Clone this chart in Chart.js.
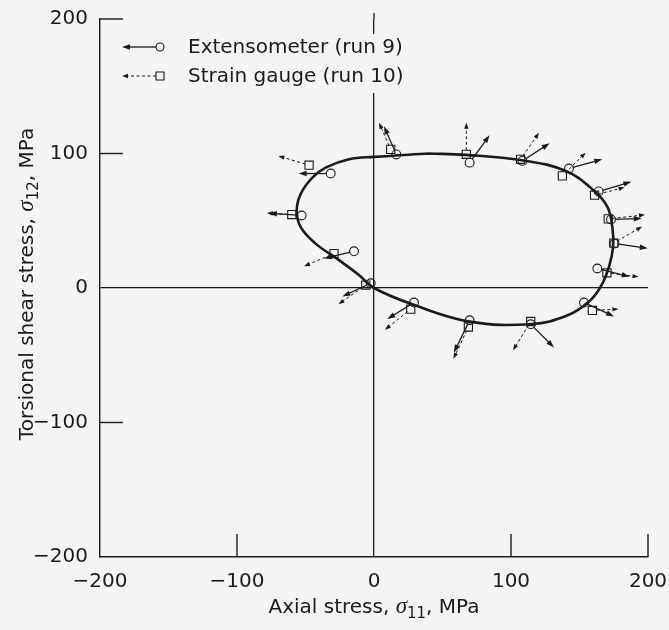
<!DOCTYPE html>
<html>
<head>
<meta charset="utf-8">
<script src="https://cdn.jsdelivr.net/npm/chart.js@4/dist/chart.umd.min.js"></script>
<style>
  html, body { margin: 0; padding: 0; background: #f4f4f2; }
  #wrap { width: 669px; height: 630px; }
</style>
</head>
<body>
<div id="wrap"><canvas id="chart"></canvas></div>
<script>
// yield locus (closed loop), MPa
const curveX = [40, 67, 108, 140, 161, 170.5, 174, 174.5, 171.5, 165.5, 157, 141, 115, 70, 29, 0,
                -11, -25.5, -42.6, -53.5, -56.4, -53.5, -45, -35.3, -18.2, 0, 40];
const curveY = [100, 99, 95, 87, 72, 60, 45, 30.5, 15.7, 1, -10, -20.5, -26.8, -25, -12.5, 0,
                9.6, 20.7, 33, 45.2, 57.6, 69.9, 82, 89.5, 95.7, 97.5, 100];

// extensometer (run 9): probe points + strain increment direction
const extX = [-31.6, -52.8, -14.6, -2.4, 16.3, 69.8, 108.3, 142.3, 164, 173, 175.5, 163, 153.3, 114.4, 69.8, 29.2];
const extY = [85.1, 53.9, 27.3, 3.5, 99.3, 93.2, 94.5, 88.8, 71.8, 51, 33, 14.5, -10.8, -27, -24, -10.8];
const extDX = [-23.4, -23.9, -21.9, -20.7, -9.0, 14.6, 19.9, 24.3, 23.9, 22.4, 24.3, 23.6, 21.9, 17.0, -11.5, -19.5];
const extDY = [0, 1.7, -5.4, -9.8, 20.9, 20.4, 13.1, 6.9, 7.2, 0.7, -3.5, -6.1, -10.3, -17.2, -24.1, -12.3];

// strain gauge (run 10)
const gaugeX = [-47.4, -60, -29.2, -6, 12.2, 67.4, 107, 137.5, 161, 171, 175, 170, 159.4, 114.4, 68.9, 26.8];
const gaugeY = [91.3, 54.6, 25.6, 2.2, 103.1, 99.4, 95.7, 83.4, 69, 51.4, 33.4, 11.3, -16.7, -24.9, -29, -15.7];
const gaugeDX = [-22.4, -18.2, -21.9, -19.9, -8.5, 0, 13.4, 17.0, 21.9, 26.8, 20.7, 23.1, 19.0, -12.9, -10.9, -18.8];
const gaugeDY = [6.9, 1.1, -9.4, -14.2, 19.7, 23.4, 19.7, 17.2, 5.9, 3.0, 12.3, -3.0, 1.0, -21.4, -23.6, -15.3];

const axisMin = -200, axisMax = 200, axisStep = 100;

const ink = '#1b1b1b';
const bg = '#f4f4f2';
const FONT = 'DejaVu Sans';

const toPts = (xs, ys) => xs.map((x, i) => ({ x, y: ys[i] }));
const minus = v => String(v).replace('-', '\u2212');

function drawArrow(ctx, x0, y0, x1, y1, gap, dashed) {
  const a = Math.atan2(y1 - y0, x1 - x0);
  const c = Math.cos(a), s = Math.sin(a);
  const head = dashed ? 6 : 8, half = dashed ? 2.2 : 2.7;
  ctx.save();
  ctx.strokeStyle = ink;
  ctx.fillStyle = ink;
  ctx.lineWidth = dashed ? 1 : 1.3;
  ctx.setLineDash(dashed ? [3, 2.5] : []);
  ctx.beginPath();
  ctx.moveTo(x0 + c * gap, y0 + s * gap);
  ctx.lineTo(x1 - c * head * 0.6, y1 - s * head * 0.6);
  ctx.stroke();
  ctx.setLineDash([]);
  ctx.beginPath();
  ctx.moveTo(x1, y1);
  ctx.lineTo(x1 - head * c + half * s, y1 - head * s - half * c);
  ctx.lineTo(x1 - head * c - half * s, y1 - head * s + half * c);
  ctx.closePath();
  ctx.fill();
  ctx.restore();
}

// text made of pieces (italic sigma, subscript)
function drawRich(ctx, parts, cx, baseY) {
  let w = 0;
  parts.forEach(p => { ctx.font = p.font; w += ctx.measureText(p.text).width; });
  let x = cx - w / 2;
  ctx.textAlign = 'left';
  ctx.textBaseline = 'alphabetic';
  parts.forEach(p => {
    ctx.font = p.font;
    ctx.fillText(p.text, x, baseY + (p.dy || 0));
    x += ctx.measureText(p.text).width;
  });
}

const arrowPlugin = {
  id: 'arrows',
  afterDatasetsDraw(chart) {
    const { ctx, scales: { x, y } } = chart;
    extX.forEach((v, i) => {
      drawArrow(ctx, x.getPixelForValue(v), y.getPixelForValue(extY[i]),
        x.getPixelForValue(v + extDX[i]), y.getPixelForValue(extY[i] + extDY[i]), 4, false);
    });
    gaugeX.forEach((v, i) => {
      drawArrow(ctx, x.getPixelForValue(v), y.getPixelForValue(gaugeY[i]),
        x.getPixelForValue(v + gaugeDX[i]), y.getPixelForValue(gaugeY[i] + gaugeDY[i]), 4, true);
    });
  }
};

const framePlugin = {
  id: 'frame',
  afterDraw(chart) {
    const { ctx, chartArea: a, scales: { x, y } } = chart;
    ctx.save();
    ctx.strokeStyle = ink;
    ctx.lineWidth = 1.4;
    // inward tick marks
    y.ticks.forEach(t => {
      if (t.value === axisMin || t.value === 0) return;
      const py = y.getPixelForValue(t.value);
      ctx.beginPath(); ctx.moveTo(a.left, py); ctx.lineTo(a.left + 23, py); ctx.stroke();
    });
    x.ticks.forEach(t => {
      if (t.value === axisMin || t.value === 0) return;
      const px = x.getPixelForValue(t.value);
      ctx.beginPath(); ctx.moveTo(px, a.bottom); ctx.lineTo(px, a.bottom - 23); ctx.stroke();
    });
    // zero line pokes a little above the frame
    const zx = x.getPixelForValue(0);
    ctx.lineWidth = 1.3;
    ctx.beginPath(); ctx.moveTo(zx, a.top - 6); ctx.lineTo(zx, a.top); ctx.stroke();

    // legend
    ctx.fillStyle = bg;
    ctx.fillRect(180, 34, 232, 59);
    ctx.fillStyle = ink;
    ctx.font = '20px "' + FONT + '"';
    ctx.textAlign = 'left';
    ctx.textBaseline = 'middle';
    const rows = chart.data.datasets.slice(1);
    rows.forEach((ds, i) => {
      const ly = 47 + i * 29;
      drawArrow(ctx, 156, ly, 122, ly, 0, i === 1);
      ctx.lineWidth = 1.1;
      ctx.beginPath();
      if (i === 0) ctx.arc(160, ly, 4, 0, Math.PI * 2);
      else ctx.rect(156, ly - 4, 8, 8);
      ctx.stroke();
      ctx.fillText(ds.label, 188, ly + 1);
    });

    // axis titles
    const base = '20px "' + FONT + '"';
    const sig = 'italic 23px "Liberation Serif"';
    const sub = '15px "' + FONT + '"';
    drawRich(ctx, [
      { text: 'Axial stress, ', font: base },
      { text: '\u03c3', font: sig },
      { text: '11', font: sub, dy: 5 },
      { text: ', MPa', font: base }
    ], (a.left + a.right) / 2, 613);
    ctx.translate(26, 284);
    ctx.rotate(-Math.PI / 2);
    drawRich(ctx, [
      { text: 'Torsional shear stress, ', font: base },
      { text: '\u03c3', font: sig },
      { text: '12', font: sub, dy: 5 },
      { text: ', MPa', font: base }
    ], 0, 7);
    ctx.restore();
  }
};

const zeroLine = c => (c.tick && c.tick.value === 0 ? ink : 'rgba(0,0,0,0)');

new Chart(document.getElementById('chart'), {
  type: 'scatter',
  data: {
    datasets: [
      {
        label: 'Yield locus',
        data: toPts(curveX, curveY),
        showLine: true,
        tension: 0.4,
        borderColor: ink,
        borderWidth: 2.6,
        pointRadius: 0,
        fill: false
      },
      {
        label: 'Extensometer (run 9)',
        data: toPts(extX, extY),
        pointStyle: 'circle',
        pointRadius: 4.4,
        borderColor: ink,
        borderWidth: 1.1,
        backgroundColor: 'rgba(0,0,0,0)'
      },
      {
        label: 'Strain gauge (run 10)',
        data: toPts(gaugeX, gaugeY),
        pointStyle: 'rect',
        pointRadius: 5.8,
        borderColor: ink,
        borderWidth: 1.1,
        backgroundColor: 'rgba(0,0,0,0)'
      }
    ]
  },
  options: {
    responsive: true,
    maintainAspectRatio: false,
    animation: false,
    layout: { padding: { top: 19, right: 21, left: 0, bottom: 0 } },
    plugins: { legend: { display: false }, tooltip: { enabled: false } },
    scales: {
      x: {
        min: axisMin, max: axisMax,
        afterFit: s => { s.height = 73; s.paddingLeft = 0; s.paddingRight = 0; },
        ticks: { stepSize: axisStep, color: ink, padding: 13, font: { family: FONT, size: 20 }, callback: minus },
        grid: { color: zeroLine, lineWidth: 1.3, drawTicks: false },
        border: { display: true, color: ink, width: 1.4 }
      },
      y: {
        min: axisMin, max: axisMax,
        afterFit: s => { s.width = 100; s.paddingTop = 0; s.paddingBottom = 0; },
        ticks: { stepSize: axisStep, color: ink, padding: 12, font: { family: FONT, size: 20 }, callback: minus },
        grid: { color: zeroLine, lineWidth: 1.3, drawTicks: false },
        border: { display: true, color: ink, width: 1.4 }
      }
    }
  },
  plugins: [arrowPlugin, framePlugin]
});
</script>
</body>
</html>
